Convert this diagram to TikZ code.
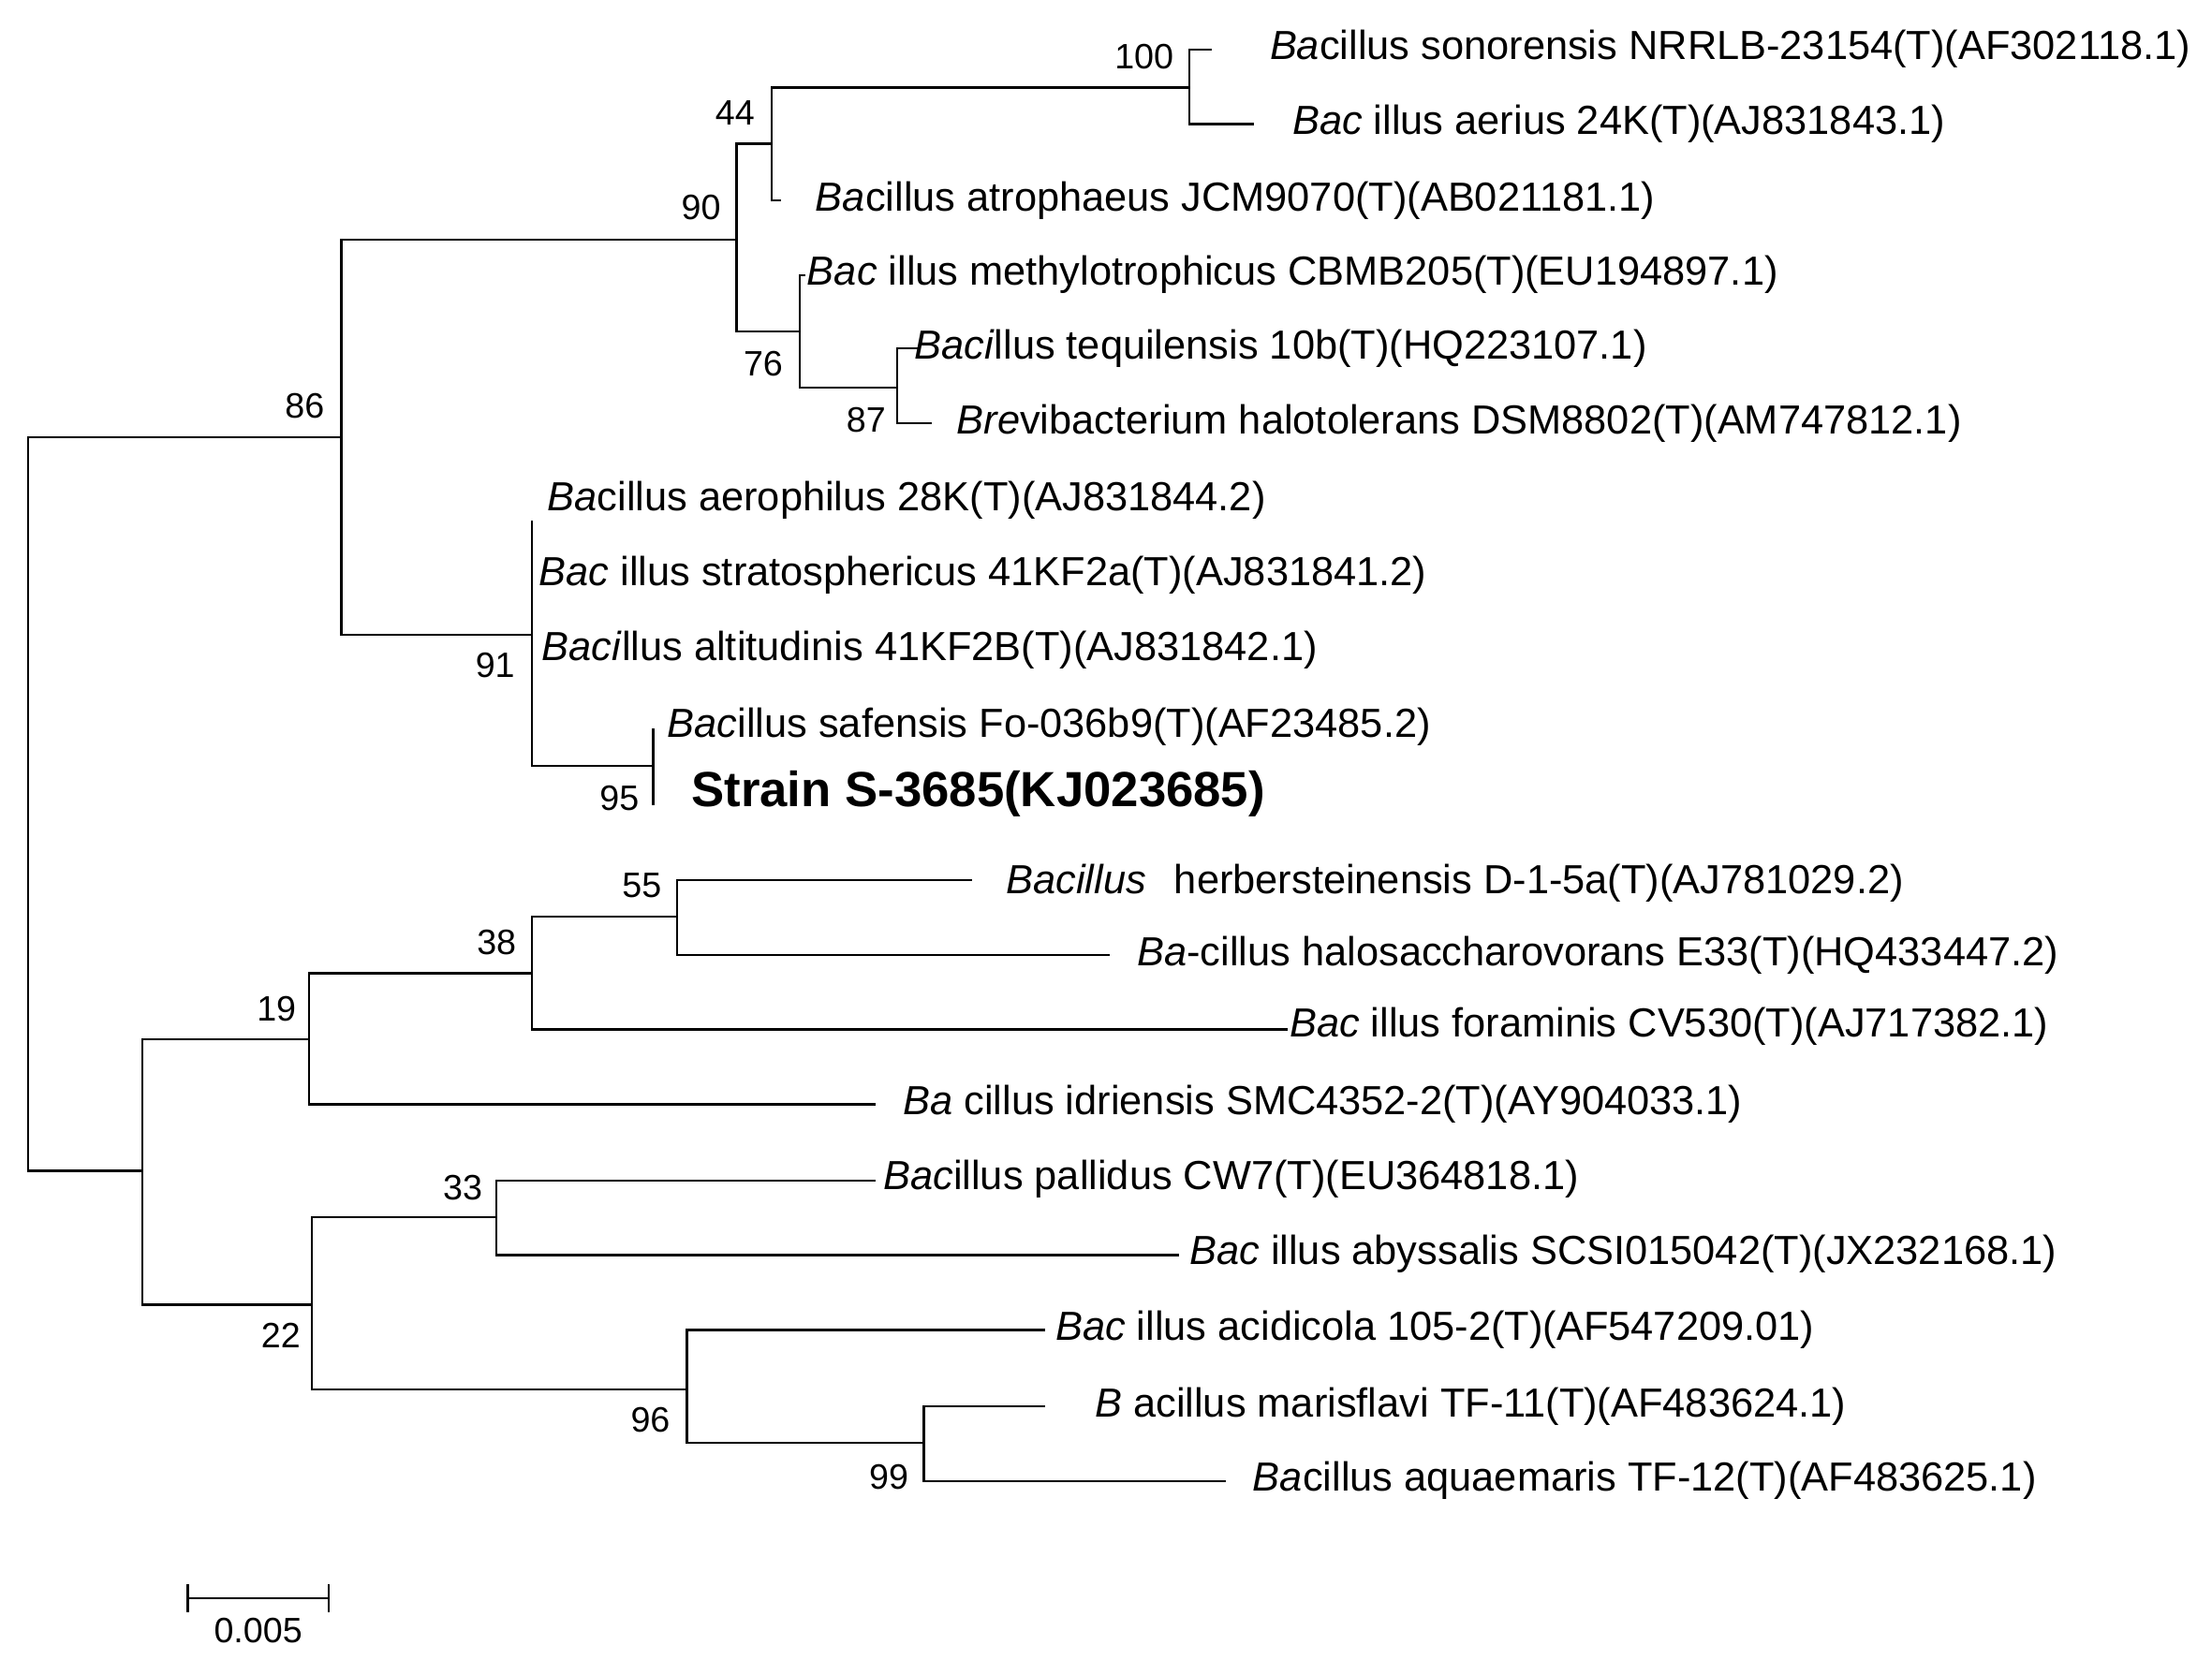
\documentclass[tikz,border=0pt]{standalone}
\usepackage{fontspec}
\setmainfont{Liberation Sans}
\begin{document}
\begin{tikzpicture}[x=1pt,y=-1pt,
  br/.style={line width=1.6pt,line cap=rect},
  lab/.style={anchor=west,inner sep=0pt,font=\fontsize{28.8}{30}\selectfont},
  bs/.style={inner sep=0pt,font=\fontsize{25}{27}\selectfont}]
\useasboundingbox[fill=white] (0,0) rectangle (1568,1187);
% top clade
\draw[br] (20,310)--(20,830);
\draw[br] (20,310)--(242,310) (242,170)--(242,450);
\draw[br] (242,170)--(522,170) (522,102)--(522,235);
\draw[br] (522,102)--(547,102) (547,62)--(547,142) (547,142)--(553,142);
\draw[br] (547,62)--(843,62) (843,35)--(843,88) (843,35)--(858,35) (843,88)--(888,88);
\draw[br] (522,235)--(567,235) (567,195)--(567,275) (567,195)--(570,195);
\draw[br] (567,275)--(636,275) (636,247)--(636,300) (636,247)--(650,247) (636,300)--(660,300);
\draw[br] (242,450)--(377,450) (377,370)--(377,543) (377,543)--(463,543) (463,517)--(463,570);
% bottom clade
\draw[br] (20,830)--(101,830) (101,737)--(101,925);
\draw[br] (101,737)--(219,737) (219,690)--(219,783) (219,783)--(620,783);
\draw[br] (219,690)--(377,690) (377,650)--(377,730) (377,730)--(912,730);
\draw[br] (377,650)--(480,650) (480,624)--(480,677) (480,624)--(688,624) (480,677)--(786,677);
\draw[br] (101,925)--(221,925) (221,863)--(221,985);
\draw[br] (221,863)--(352,863) (352,837)--(352,890) (352,837)--(620,837) (352,890)--(835,890);
\draw[br] (221,985)--(487,985) (487,943)--(487,1023) (487,943)--(740,943);
\draw[br] (487,1023)--(655,1023) (655,997)--(655,1050) (655,997)--(740,997) (655,1050)--(868,1050);
% bootstrap values
\node[bs] (b86) at (216,288) {86};
\node[bs] (b90) at (497,147) {90};
\node[bs] (b44) at (521,80) {44};
\node[bs] (b100) at (811,40) {100};
\node[bs] (b76) at (541,258) {76};
\node[bs] (b87) at (614,298) {87};
\node[bs] (b91) at (351,472) {91};
\node[bs] (b95) at (439,566) {95};
\node[bs] (b55) at (455,628) {55};
\node[bs] (b38) at (352,668) {38};
\node[bs] (b19) at (196,715) {19};
\node[bs] (b33) at (328,842) {33};
\node[bs] (b22) at (199,947) {22};
\node[bs] (b96) at (461,1007) {96};
\node[bs] (b99) at (630,1047) {99};
% leaves
\node[lab] (l1) at (900,35) {\textit{Ba}cillus sonorensis NRRLB-23154(T)(AF302118.1)};
\node[lab] (l2) at (916,88) {\textit{Bac} illus aerius 24K(T)(AJ831843.1)};
\node[lab] (l3) at (578,142) {\textit{Ba}cillus atrophaeus JCM9070(T)(AB021181.1)};
\node[lab] (l4) at (572,195) {\textit{Bac} illus methylotrophicus CBMB205(T)(EU194897.1)};
\node[lab] (l5) at (648,247) {\textit{Baci}llus tequilensis 10b(T)(HQ223107.1)};
\node[lab] (l6) at (678,300) {\textit{Bre}vibacterium halotolerans DSM8802(T)(AM747812.1)};
\node[lab] (l7) at (388,355) {\textit{Ba}cillus aerophilus 28K(T)(AJ831844.2)};
\node[lab] (l8) at (382,408) {\textit{Bac} illus stratosphericus 41KF2a(T)(AJ831841.2)};
\node[lab] (l9) at (384,461) {\textit{Baci}llus altitudinis 41KF2B(T)(AJ831842.1)};
\node[lab] (l10) at (473,515) {\textit{Bac}illus safensis Fo-036b9(T)(AF23485.2)};
\node[lab,font=\fontsize{35}{37}\selectfont\bfseries] (l11) at (490,563) {Strain S-3685(KJ023685)};
\node[lab] (l12) at (713,626) {\textit{Bacillus}\hspace{12pt} herbersteinensis D-1-5a(T)(AJ781029.2)};
\node[lab] (l13) at (806,677) {\textit{Ba}-cillus halosaccharovorans E33(T)(HQ433447.2)};
\node[lab] (l14) at (914,728) {\textit{Bac} illus foraminis CV530(T)(AJ717382.1)};
\node[lab] (l15) at (640,783) {\textit{Ba} cillus idriensis SMC4352-2(T)(AY904033.1)};
\node[lab] (l16) at (626,836) {\textit{Bac}illus pallidus CW7(T)(EU364818.1)};
\node[lab] (l17) at (843,889) {\textit{Bac} illus abyssalis SCSI015042(T)(JX232168.1)};
\node[lab] (l18) at (748,943) {\textit{Bac} illus acidicola 105-2(T)(AF547209.01)};
\node[lab] (l19) at (776,997) {\textit{B} acillus marisflavi TF-11(T)(AF483624.1)};
\node[lab] (l20) at (888,1050) {\textit{Ba}cillus aquaemaris TF-12(T)(AF483625.1)};
% scale bar
\draw[br] (133,1133)--(233,1133) (133,1124)--(133,1142) (233,1124)--(233,1142);
\node[bs] (sc) at (183,1156) {0.005};
\end{tikzpicture}
\end{document}
